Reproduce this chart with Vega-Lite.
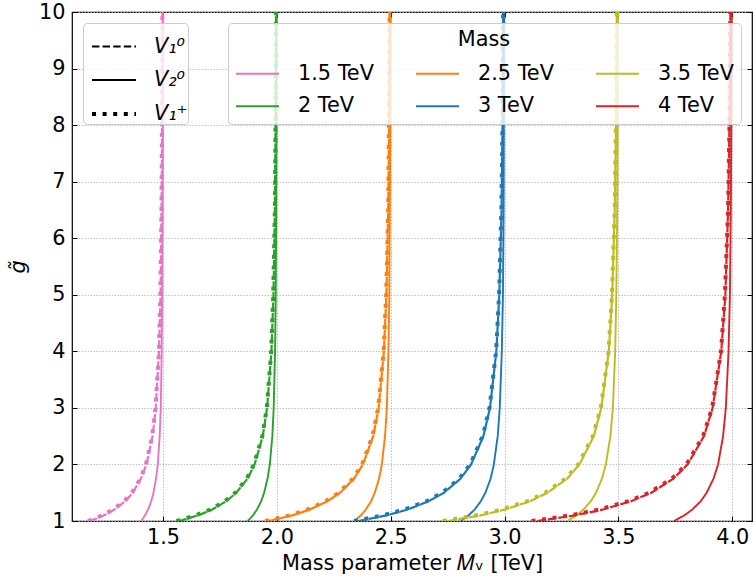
{
"$schema": "https://vega.github.io/schema/vega-lite/v6.json",
"width": 680, "height": 509, "autosize": "none",
"padding": {"left": 72, "top": 12, "right": 1, "bottom": 58},
"config": {"font": "DejaVu Sans", "view": {"stroke": "#000000", "strokeWidth": 1.2}},
"data": {"values": [
{"m":"1.5 TeV","t":"V\u2081\u2070","g":1,"x":1.179},{"m":"1.5 TeV","t":"V\u2081\u2070","g":1.1,"x":1.241},{"m":"1.5 TeV","t":"V\u2081\u2070","g":1.2,"x":1.286},{"m":"1.5 TeV","t":"V\u2081\u2070","g":1.35,"x":1.334},{"m":"1.5 TeV","t":"V\u2081\u2070","g":1.5,"x":1.367},{"m":"1.5 TeV","t":"V\u2081\u2070","g":1.75,"x":1.403},{"m":"1.5 TeV","t":"V\u2081\u2070","g":2,"x":1.427},{"m":"1.5 TeV","t":"V\u2081\u2070","g":2.5,"x":1.454},{"m":"1.5 TeV","t":"V\u2081\u2070","g":3,"x":1.468},{"m":"1.5 TeV","t":"V\u2081\u2070","g":4,"x":1.482},{"m":"1.5 TeV","t":"V\u2081\u2070","g":5,"x":1.489},{"m":"1.5 TeV","t":"V\u2081\u2070","g":6.5,"x":1.493},{"m":"1.5 TeV","t":"V\u2081\u2070","g":8,"x":1.496},{"m":"1.5 TeV","t":"V\u2081\u2070","g":10,"x":1.497},
{"m":"1.5 TeV","t":"V\u2081\u207a","g":1,"x":1.170},{"m":"1.5 TeV","t":"V\u2081\u207a","g":1.1,"x":1.233},{"m":"1.5 TeV","t":"V\u2081\u207a","g":1.2,"x":1.280},{"m":"1.5 TeV","t":"V\u2081\u207a","g":1.35,"x":1.329},{"m":"1.5 TeV","t":"V\u2081\u207a","g":1.5,"x":1.363},{"m":"1.5 TeV","t":"V\u2081\u207a","g":1.75,"x":1.401},{"m":"1.5 TeV","t":"V\u2081\u207a","g":2,"x":1.425},{"m":"1.5 TeV","t":"V\u2081\u207a","g":2.5,"x":1.452},{"m":"1.5 TeV","t":"V\u2081\u207a","g":3,"x":1.467},{"m":"1.5 TeV","t":"V\u2081\u207a","g":4,"x":1.482},{"m":"1.5 TeV","t":"V\u2081\u207a","g":5,"x":1.488},{"m":"1.5 TeV","t":"V\u2081\u207a","g":6.5,"x":1.493},{"m":"1.5 TeV","t":"V\u2081\u207a","g":8,"x":1.495},{"m":"1.5 TeV","t":"V\u2081\u207a","g":10,"x":1.497},
{"m":"1.5 TeV","t":"V\u2082\u2070","g":1,"x":1.404},{"m":"1.5 TeV","t":"V\u2082\u2070","g":1.1,"x":1.421},{"m":"1.5 TeV","t":"V\u2082\u2070","g":1.2,"x":1.434},{"m":"1.5 TeV","t":"V\u2082\u2070","g":1.35,"x":1.448},{"m":"1.5 TeV","t":"V\u2082\u2070","g":1.5,"x":1.458},{"m":"1.5 TeV","t":"V\u2082\u2070","g":1.75,"x":1.469},{"m":"1.5 TeV","t":"V\u2082\u2070","g":2,"x":1.477},{"m":"1.5 TeV","t":"V\u2082\u2070","g":2.5,"x":1.485},{"m":"1.5 TeV","t":"V\u2082\u2070","g":3,"x":1.490},{"m":"1.5 TeV","t":"V\u2082\u2070","g":4,"x":1.494},{"m":"1.5 TeV","t":"V\u2082\u2070","g":5,"x":1.496},{"m":"1.5 TeV","t":"V\u2082\u2070","g":6.5,"x":1.498},{"m":"1.5 TeV","t":"V\u2082\u2070","g":8,"x":1.499},{"m":"1.5 TeV","t":"V\u2082\u2070","g":10,"x":1.499},
{"m":"2 TeV","t":"V\u2081\u2070","g":1,"x":1.572},{"m":"2 TeV","t":"V\u2081\u2070","g":1.1,"x":1.654},{"m":"2 TeV","t":"V\u2081\u2070","g":1.2,"x":1.714},{"m":"2 TeV","t":"V\u2081\u2070","g":1.35,"x":1.778},{"m":"2 TeV","t":"V\u2081\u2070","g":1.5,"x":1.822},{"m":"2 TeV","t":"V\u2081\u2070","g":1.75,"x":1.871},{"m":"2 TeV","t":"V\u2081\u2070","g":2,"x":1.902},{"m":"2 TeV","t":"V\u2081\u2070","g":2.5,"x":1.938},{"m":"2 TeV","t":"V\u2081\u2070","g":3,"x":1.957},{"m":"2 TeV","t":"V\u2081\u2070","g":4,"x":1.976},{"m":"2 TeV","t":"V\u2081\u2070","g":5,"x":1.985},{"m":"2 TeV","t":"V\u2081\u2070","g":6.5,"x":1.991},{"m":"2 TeV","t":"V\u2081\u2070","g":8,"x":1.994},{"m":"2 TeV","t":"V\u2081\u2070","g":10,"x":1.996},
{"m":"2 TeV","t":"V\u2081\u207a","g":1,"x":1.559},{"m":"2 TeV","t":"V\u2081\u207a","g":1.1,"x":1.644},{"m":"2 TeV","t":"V\u2081\u207a","g":1.2,"x":1.706},{"m":"2 TeV","t":"V\u2081\u207a","g":1.35,"x":1.772},{"m":"2 TeV","t":"V\u2081\u207a","g":1.5,"x":1.817},{"m":"2 TeV","t":"V\u2081\u207a","g":1.75,"x":1.868},{"m":"2 TeV","t":"V\u2081\u207a","g":2,"x":1.899},{"m":"2 TeV","t":"V\u2081\u207a","g":2.5,"x":1.936},{"m":"2 TeV","t":"V\u2081\u207a","g":3,"x":1.956},{"m":"2 TeV","t":"V\u2081\u207a","g":4,"x":1.975},{"m":"2 TeV","t":"V\u2081\u207a","g":5,"x":1.984},{"m":"2 TeV","t":"V\u2081\u207a","g":6.5,"x":1.991},{"m":"2 TeV","t":"V\u2081\u207a","g":8,"x":1.994},{"m":"2 TeV","t":"V\u2081\u207a","g":10,"x":1.996},
{"m":"2 TeV","t":"V\u2082\u2070","g":1,"x":1.872},{"m":"2 TeV","t":"V\u2082\u2070","g":1.1,"x":1.895},{"m":"2 TeV","t":"V\u2082\u2070","g":1.2,"x":1.912},{"m":"2 TeV","t":"V\u2082\u2070","g":1.35,"x":1.931},{"m":"2 TeV","t":"V\u2082\u2070","g":1.5,"x":1.944},{"m":"2 TeV","t":"V\u2082\u2070","g":1.75,"x":1.959},{"m":"2 TeV","t":"V\u2082\u2070","g":2,"x":1.969},{"m":"2 TeV","t":"V\u2082\u2070","g":2.5,"x":1.980},{"m":"2 TeV","t":"V\u2082\u2070","g":3,"x":1.986},{"m":"2 TeV","t":"V\u2082\u2070","g":4,"x":1.992},{"m":"2 TeV","t":"V\u2082\u2070","g":5,"x":1.995},{"m":"2 TeV","t":"V\u2082\u2070","g":6.5,"x":1.997},{"m":"2 TeV","t":"V\u2082\u2070","g":8,"x":1.998},{"m":"2 TeV","t":"V\u2082\u2070","g":10,"x":1.999},
{"m":"2.5 TeV","t":"V\u2081\u2070","g":1,"x":1.965},{"m":"2.5 TeV","t":"V\u2081\u2070","g":1.1,"x":2.068},{"m":"2.5 TeV","t":"V\u2081\u2070","g":1.2,"x":2.143},{"m":"2.5 TeV","t":"V\u2081\u2070","g":1.35,"x":2.223},{"m":"2.5 TeV","t":"V\u2081\u2070","g":1.5,"x":2.278},{"m":"2.5 TeV","t":"V\u2081\u2070","g":1.75,"x":2.339},{"m":"2.5 TeV","t":"V\u2081\u2070","g":2,"x":2.378},{"m":"2.5 TeV","t":"V\u2081\u2070","g":2.5,"x":2.423},{"m":"2.5 TeV","t":"V\u2081\u2070","g":3,"x":2.447},{"m":"2.5 TeV","t":"V\u2081\u2070","g":4,"x":2.470},{"m":"2.5 TeV","t":"V\u2081\u2070","g":5,"x":2.481},{"m":"2.5 TeV","t":"V\u2081\u2070","g":6.5,"x":2.489},{"m":"2.5 TeV","t":"V\u2081\u2070","g":8,"x":2.493},{"m":"2.5 TeV","t":"V\u2081\u2070","g":10,"x":2.495},
{"m":"2.5 TeV","t":"V\u2081\u207a","g":1,"x":1.949},{"m":"2.5 TeV","t":"V\u2081\u207a","g":1.1,"x":2.056},{"m":"2.5 TeV","t":"V\u2081\u207a","g":1.2,"x":2.133},{"m":"2.5 TeV","t":"V\u2081\u207a","g":1.35,"x":2.215},{"m":"2.5 TeV","t":"V\u2081\u207a","g":1.5,"x":2.272},{"m":"2.5 TeV","t":"V\u2081\u207a","g":1.75,"x":2.335},{"m":"2.5 TeV","t":"V\u2081\u207a","g":2,"x":2.374},{"m":"2.5 TeV","t":"V\u2081\u207a","g":2.5,"x":2.420},{"m":"2.5 TeV","t":"V\u2081\u207a","g":3,"x":2.445},{"m":"2.5 TeV","t":"V\u2081\u207a","g":4,"x":2.469},{"m":"2.5 TeV","t":"V\u2081\u207a","g":5,"x":2.480},{"m":"2.5 TeV","t":"V\u2081\u207a","g":6.5,"x":2.489},{"m":"2.5 TeV","t":"V\u2081\u207a","g":8,"x":2.492},{"m":"2.5 TeV","t":"V\u2081\u207a","g":10,"x":2.495},
{"m":"2.5 TeV","t":"V\u2082\u2070","g":1,"x":2.340},{"m":"2.5 TeV","t":"V\u2082\u2070","g":1.1,"x":2.369},{"m":"2.5 TeV","t":"V\u2082\u2070","g":1.2,"x":2.390},{"m":"2.5 TeV","t":"V\u2082\u2070","g":1.35,"x":2.414},{"m":"2.5 TeV","t":"V\u2082\u2070","g":1.5,"x":2.430},{"m":"2.5 TeV","t":"V\u2082\u2070","g":1.75,"x":2.449},{"m":"2.5 TeV","t":"V\u2082\u2070","g":2,"x":2.461},{"m":"2.5 TeV","t":"V\u2082\u2070","g":2.5,"x":2.475},{"m":"2.5 TeV","t":"V\u2082\u2070","g":3,"x":2.483},{"m":"2.5 TeV","t":"V\u2082\u2070","g":4,"x":2.490},{"m":"2.5 TeV","t":"V\u2082\u2070","g":5,"x":2.494},{"m":"2.5 TeV","t":"V\u2082\u2070","g":6.5,"x":2.496},{"m":"2.5 TeV","t":"V\u2082\u2070","g":8,"x":2.498},{"m":"2.5 TeV","t":"V\u2082\u2070","g":10,"x":2.499},
{"m":"3 TeV","t":"V\u2081\u2070","g":1,"x":2.358},{"m":"3 TeV","t":"V\u2081\u2070","g":1.1,"x":2.482},{"m":"3 TeV","t":"V\u2081\u2070","g":1.2,"x":2.572},{"m":"3 TeV","t":"V\u2081\u2070","g":1.35,"x":2.667},{"m":"3 TeV","t":"V\u2081\u2070","g":1.5,"x":2.734},{"m":"3 TeV","t":"V\u2081\u2070","g":1.75,"x":2.807},{"m":"3 TeV","t":"V\u2081\u2070","g":2,"x":2.853},{"m":"3 TeV","t":"V\u2081\u2070","g":2.5,"x":2.907},{"m":"3 TeV","t":"V\u2081\u2070","g":3,"x":2.936},{"m":"3 TeV","t":"V\u2081\u2070","g":4,"x":2.964},{"m":"3 TeV","t":"V\u2081\u2070","g":5,"x":2.977},{"m":"3 TeV","t":"V\u2081\u2070","g":6.5,"x":2.987},{"m":"3 TeV","t":"V\u2081\u2070","g":8,"x":2.991},{"m":"3 TeV","t":"V\u2081\u2070","g":10,"x":2.994},
{"m":"3 TeV","t":"V\u2081\u207a","g":1,"x":2.339},{"m":"3 TeV","t":"V\u2081\u207a","g":1.1,"x":2.467},{"m":"3 TeV","t":"V\u2081\u207a","g":1.2,"x":2.559},{"m":"3 TeV","t":"V\u2081\u207a","g":1.35,"x":2.658},{"m":"3 TeV","t":"V\u2081\u207a","g":1.5,"x":2.726},{"m":"3 TeV","t":"V\u2081\u207a","g":1.75,"x":2.801},{"m":"3 TeV","t":"V\u2081\u207a","g":2,"x":2.849},{"m":"3 TeV","t":"V\u2081\u207a","g":2.5,"x":2.904},{"m":"3 TeV","t":"V\u2081\u207a","g":3,"x":2.934},{"m":"3 TeV","t":"V\u2081\u207a","g":4,"x":2.963},{"m":"3 TeV","t":"V\u2081\u207a","g":5,"x":2.976},{"m":"3 TeV","t":"V\u2081\u207a","g":6.5,"x":2.986},{"m":"3 TeV","t":"V\u2081\u207a","g":8,"x":2.991},{"m":"3 TeV","t":"V\u2081\u207a","g":10,"x":2.994},
{"m":"3 TeV","t":"V\u2082\u2070","g":1,"x":2.808},{"m":"3 TeV","t":"V\u2082\u2070","g":1.1,"x":2.842},{"m":"3 TeV","t":"V\u2082\u2070","g":1.2,"x":2.868},{"m":"3 TeV","t":"V\u2082\u2070","g":1.35,"x":2.896},{"m":"3 TeV","t":"V\u2082\u2070","g":1.5,"x":2.916},{"m":"3 TeV","t":"V\u2082\u2070","g":1.75,"x":2.939},{"m":"3 TeV","t":"V\u2082\u2070","g":2,"x":2.953},{"m":"3 TeV","t":"V\u2082\u2070","g":2.5,"x":2.970},{"m":"3 TeV","t":"V\u2082\u2070","g":3,"x":2.979},{"m":"3 TeV","t":"V\u2082\u2070","g":4,"x":2.988},{"m":"3 TeV","t":"V\u2082\u2070","g":5,"x":2.993},{"m":"3 TeV","t":"V\u2082\u2070","g":6.5,"x":2.996},{"m":"3 TeV","t":"V\u2082\u2070","g":8,"x":2.997},{"m":"3 TeV","t":"V\u2082\u2070","g":10,"x":2.998},
{"m":"3.5 TeV","t":"V\u2081\u2070","g":1,"x":2.751},{"m":"3.5 TeV","t":"V\u2081\u2070","g":1.1,"x":2.895},{"m":"3.5 TeV","t":"V\u2081\u2070","g":1.2,"x":3.000},{"m":"3.5 TeV","t":"V\u2081\u2070","g":1.35,"x":3.112},{"m":"3.5 TeV","t":"V\u2081\u2070","g":1.5,"x":3.189},{"m":"3.5 TeV","t":"V\u2081\u2070","g":1.75,"x":3.275},{"m":"3.5 TeV","t":"V\u2081\u2070","g":2,"x":3.329},{"m":"3.5 TeV","t":"V\u2081\u2070","g":2.5,"x":3.392},{"m":"3.5 TeV","t":"V\u2081\u2070","g":3,"x":3.425},{"m":"3.5 TeV","t":"V\u2081\u2070","g":4,"x":3.458},{"m":"3.5 TeV","t":"V\u2081\u2070","g":5,"x":3.473},{"m":"3.5 TeV","t":"V\u2081\u2070","g":6.5,"x":3.484},{"m":"3.5 TeV","t":"V\u2081\u2070","g":8,"x":3.490},{"m":"3.5 TeV","t":"V\u2081\u2070","g":10,"x":3.493},
{"m":"3.5 TeV","t":"V\u2081\u207a","g":1,"x":2.729},{"m":"3.5 TeV","t":"V\u2081\u207a","g":1.1,"x":2.878},{"m":"3.5 TeV","t":"V\u2081\u207a","g":1.2,"x":2.986},{"m":"3.5 TeV","t":"V\u2081\u207a","g":1.35,"x":3.101},{"m":"3.5 TeV","t":"V\u2081\u207a","g":1.5,"x":3.180},{"m":"3.5 TeV","t":"V\u2081\u207a","g":1.75,"x":3.268},{"m":"3.5 TeV","t":"V\u2081\u207a","g":2,"x":3.324},{"m":"3.5 TeV","t":"V\u2081\u207a","g":2.5,"x":3.388},{"m":"3.5 TeV","t":"V\u2081\u207a","g":3,"x":3.423},{"m":"3.5 TeV","t":"V\u2081\u207a","g":4,"x":3.457},{"m":"3.5 TeV","t":"V\u2081\u207a","g":5,"x":3.472},{"m":"3.5 TeV","t":"V\u2081\u207a","g":6.5,"x":3.484},{"m":"3.5 TeV","t":"V\u2081\u207a","g":8,"x":3.489},{"m":"3.5 TeV","t":"V\u2081\u207a","g":10,"x":3.493},
{"m":"3.5 TeV","t":"V\u2082\u2070","g":1,"x":3.276},{"m":"3.5 TeV","t":"V\u2082\u2070","g":1.1,"x":3.316},{"m":"3.5 TeV","t":"V\u2082\u2070","g":1.2,"x":3.346},{"m":"3.5 TeV","t":"V\u2082\u2070","g":1.35,"x":3.379},{"m":"3.5 TeV","t":"V\u2082\u2070","g":1.5,"x":3.402},{"m":"3.5 TeV","t":"V\u2082\u2070","g":1.75,"x":3.428},{"m":"3.5 TeV","t":"V\u2082\u2070","g":2,"x":3.445},{"m":"3.5 TeV","t":"V\u2082\u2070","g":2.5,"x":3.465},{"m":"3.5 TeV","t":"V\u2082\u2070","g":3,"x":3.476},{"m":"3.5 TeV","t":"V\u2082\u2070","g":4,"x":3.486},{"m":"3.5 TeV","t":"V\u2082\u2070","g":5,"x":3.491},{"m":"3.5 TeV","t":"V\u2082\u2070","g":6.5,"x":3.495},{"m":"3.5 TeV","t":"V\u2082\u2070","g":8,"x":3.497},{"m":"3.5 TeV","t":"V\u2082\u2070","g":10,"x":3.498},
{"m":"4 TeV","t":"V\u2081\u2070","g":1,"x":3.144},{"m":"4 TeV","t":"V\u2081\u2070","g":1.1,"x":3.309},{"m":"4 TeV","t":"V\u2081\u2070","g":1.2,"x":3.429},{"m":"4 TeV","t":"V\u2081\u2070","g":1.35,"x":3.556},{"m":"4 TeV","t":"V\u2081\u2070","g":1.5,"x":3.645},{"m":"4 TeV","t":"V\u2081\u2070","g":1.75,"x":3.742},{"m":"4 TeV","t":"V\u2081\u2070","g":2,"x":3.804},{"m":"4 TeV","t":"V\u2081\u2070","g":2.5,"x":3.876},{"m":"4 TeV","t":"V\u2081\u2070","g":3,"x":3.914},{"m":"4 TeV","t":"V\u2081\u2070","g":4,"x":3.952},{"m":"4 TeV","t":"V\u2081\u2070","g":5,"x":3.970},{"m":"4 TeV","t":"V\u2081\u2070","g":6.5,"x":3.982},{"m":"4 TeV","t":"V\u2081\u2070","g":8,"x":3.988},{"m":"4 TeV","t":"V\u2081\u2070","g":10,"x":3.992},
{"m":"4 TeV","t":"V\u2081\u207a","g":1,"x":3.119},{"m":"4 TeV","t":"V\u2081\u207a","g":1.1,"x":3.289},{"m":"4 TeV","t":"V\u2081\u207a","g":1.2,"x":3.412},{"m":"4 TeV","t":"V\u2081\u207a","g":1.35,"x":3.544},{"m":"4 TeV","t":"V\u2081\u207a","g":1.5,"x":3.635},{"m":"4 TeV","t":"V\u2081\u207a","g":1.75,"x":3.735},{"m":"4 TeV","t":"V\u2081\u207a","g":2,"x":3.799},{"m":"4 TeV","t":"V\u2081\u207a","g":2.5,"x":3.872},{"m":"4 TeV","t":"V\u2081\u207a","g":3,"x":3.912},{"m":"4 TeV","t":"V\u2081\u207a","g":4,"x":3.951},{"m":"4 TeV","t":"V\u2081\u207a","g":5,"x":3.968},{"m":"4 TeV","t":"V\u2081\u207a","g":6.5,"x":3.982},{"m":"4 TeV","t":"V\u2081\u207a","g":8,"x":3.988},{"m":"4 TeV","t":"V\u2081\u207a","g":10,"x":3.992},
{"m":"4 TeV","t":"V\u2082\u2070","g":1,"x":3.744},{"m":"4 TeV","t":"V\u2082\u2070","g":1.1,"x":3.790},{"m":"4 TeV","t":"V\u2082\u2070","g":1.2,"x":3.824},{"m":"4 TeV","t":"V\u2082\u2070","g":1.35,"x":3.862},{"m":"4 TeV","t":"V\u2082\u2070","g":1.5,"x":3.888},{"m":"4 TeV","t":"V\u2082\u2070","g":1.75,"x":3.918},{"m":"4 TeV","t":"V\u2082\u2070","g":2,"x":3.938},{"m":"4 TeV","t":"V\u2082\u2070","g":2.5,"x":3.960},{"m":"4 TeV","t":"V\u2082\u2070","g":3,"x":3.972},{"m":"4 TeV","t":"V\u2082\u2070","g":4,"x":3.984},{"m":"4 TeV","t":"V\u2082\u2070","g":5,"x":3.990},{"m":"4 TeV","t":"V\u2082\u2070","g":6.5,"x":3.994},{"m":"4 TeV","t":"V\u2082\u2070","g":8,"x":3.996},{"m":"4 TeV","t":"V\u2082\u2070","g":10,"x":3.998}
]},
"layer": [
{
"mark": {"type": "line", "clip": true, "strokeCap": "butt"},
"encoding": {
"x": {"field": "x", "type": "quantitative",
"scale": {"domain": [1.1, 4.087], "nice": false, "zero": false},
"axis": {"values": [1.5, 2, 2.5, 3, 3.5, 4], "format": ".1f", "title": "Mass parameter \ud835\udc40\u1d65 [TeV]",
"labelFontSize": 20.8, "titleFontSize": 20.8, "titleFontWeight": "normal", "labelColor": "#000", "titleColor": "#000",
"tickSize": -5, "tickColor": "#000", "labelPadding": 11, "titlePadding": 7, "domain": false,
"grid": true, "gridDash": [1.5, 1.5], "gridColor": "#b0b0b0", "gridWidth": 0.8}},
"y": {"field": "g", "type": "quantitative",
"scale": {"domain": [1, 10], "nice": false, "zero": false},
"axis": {"values": [1, 2, 3, 4, 5, 6, 7, 8, 9, 10], "title": "g\u0303", "titleFontStyle": "italic",
"labelFontSize": 20.8, "titleFontSize": 20.8, "titleFontWeight": "normal", "labelColor": "#000", "titleColor": "#000",
"tickSize": -5, "tickColor": "#000", "labelPadding": 12, "titlePadding": 10, "domain": false,
"grid": true, "gridDash": [1.5, 1.5], "gridColor": "#b0b0b0", "gridWidth": 0.8}},
"color": {"field": "m", "type": "nominal",
"scale": {"domain": ["1.5 TeV", "2 TeV", "2.5 TeV", "3 TeV", "3.5 TeV", "4 TeV"],
"range": ["#e377c2", "#2ca02c", "#ff7f0e", "#1f77b4", "#bcbd22", "#d62728"]},
"legend": {"orient": "none", "legendX": 156, "legendY": 11, "title": "Mass", "titleAnchor": "middle",
"titleFontSize": 20.8, "titleFontWeight": "normal", "titleColor": "#000", "titlePadding": 0,
"columns": 3, "columnPadding": 38, "rowPadding": -22, "symbolType": "stroke", "symbolSize": 1849, "symbolStrokeWidth": 2,
"labelFontSize": 20.8, "labelColor": "#000", "labelOffset": 18, "padding": 7,
"fillColor": "rgba(255,255,255,0.8)", "strokeColor": "#cccccc", "cornerRadius": 4}},
"strokeDash": {"field": "t", "type": "nominal",
"scale": {"domain": ["V\u2081\u2070", "V\u2082\u2070", "V\u2081\u207a"], "range": [[7.4, 3.2], [1, 0], [4, 6.6]]},
"legend": {"orient": "none", "legendX": 11, "legendY": 11, "title": null,
"symbolType": "stroke", "symbolSize": 1936, "symbolStrokeColor": "#000", "rowPadding": -6, "symbolOffset": 7,
"labelExpr": "datum.label + '\u2002\u2009\u2009'",
"labelFontSize": 20.8, "labelFontStyle": "italic", "labelColor": "#000", "labelOffset": 16, "padding": 0,
"fillColor": "rgba(255,255,255,0.8)", "strokeColor": "#cccccc", "cornerRadius": 4}},
"strokeWidth": {"field": "t", "type": "nominal",
"scale": {"type": "ordinal", "domain": ["V\u2081\u2070", "V\u2082\u2070", "V\u2081\u207a"], "range": [2.2, 1.9, 4]},
"legend": {"orient": "none", "legendX": 11, "legendY": 11, "title": null,
"symbolType": "stroke", "symbolSize": 1936, "symbolStrokeColor": "#000", "rowPadding": -6, "symbolOffset": 7,
"labelExpr": "datum.label + '\u2002\u2009\u2009'",
"labelFontSize": 20.8, "labelFontStyle": "italic", "labelColor": "#000", "labelOffset": 16, "padding": 0,
"fillColor": "rgba(255,255,255,0.8)", "strokeColor": "#cccccc", "cornerRadius": 4}},
"order": {"field": "g", "type": "quantitative"}
}
},
{
"mark": {"type": "line", "opacity": 0},
"encoding": {
"x": {"field": "x", "type": "quantitative",
"axis": {"orient": "top", "values": [1.5, 2, 2.5, 3, 3.5, 4], "labels": false, "title": null, "grid": false, "domain": false, "tickSize": -5, "tickColor": "#000"}},
"y": {"field": "g", "type": "quantitative",
"axis": {"orient": "right", "values": [1, 2, 3, 4, 5, 6, 7, 8, 9, 10], "labels": false, "title": null, "grid": false, "domain": false, "tickSize": -5, "tickColor": "#000"}},
"detail": {"field": "m", "type": "nominal"}
}
}
],
"resolve": {"axis": {"x": "independent", "y": "independent"}}
}
